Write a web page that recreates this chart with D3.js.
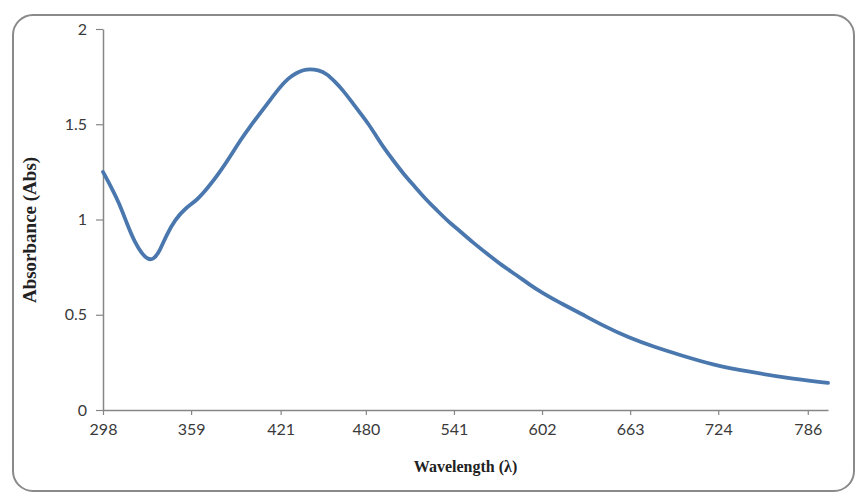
<!DOCTYPE html>
<html>
<head>
<meta charset="utf-8">
<script src="https://cdn.jsdelivr.net/npm/d3@7"></script>
<style>
  body { margin: 0; background: #fff; }
  .tick text { font-family: Lato, "Noto Sans", sans-serif; font-size: 16px; fill: #3a3a3a; }
  .title { font-family: "Liberation Serif", "DejaVu Serif", serif; font-weight: bold; fill: #222; }
</style>
</head>
<body>
<div id="chart"></div>
<script>
// wavelength (nm) and absorbance
const wavelength = [298, 303, 309, 315, 320, 325, 329, 333, 337, 342, 348, 355, 363, 371, 379, 386, 393,
    400, 407, 414, 420, 426, 432, 437, 441, 447, 453, 459, 464, 470, 476, 482, 487, 493, 499, 506, 513,
    521, 529, 537, 545, 554, 564, 574, 584, 593, 602, 615, 628, 645, 662, 680, 697, 721, 746, 770, 800];
const absorbance = [1.25, 1.18, 1.09, 0.97, 0.88, 0.82, 0.79, 0.79, 0.83, 0.92, 1.00, 1.06, 1.10, 1.17, 1.25, 1.33, 1.415,
    1.49, 1.56, 1.63, 1.69, 1.74, 1.77, 1.785, 1.79, 1.785, 1.765, 1.72, 1.68, 1.62, 1.56, 1.50, 1.44, 1.37, 1.31, 1.24, 1.18,
    1.11, 1.05, 0.99, 0.94, 0.88, 0.82, 0.76, 0.71, 0.66, 0.615, 0.56, 0.51, 0.44, 0.38, 0.33, 0.29, 0.235, 0.20, 0.17, 0.142];
const xTicks = [298, 359, 421, 480, 541, 602, 663, 724, 786];
const yTicks = [0, 0.5, 1, 1.5, 2];

const width = 856;
const height = 496;
let dimensions = {
    width: width,
    height: height,
    margin: {top: 29, right: 28, bottom: 86, left: 103}
};
dimensions.boundedWidth = dimensions.width - dimensions.margin.left - dimensions.margin.right;
dimensions.boundedHeight = dimensions.height - dimensions.margin.top - dimensions.margin.bottom;

const data = wavelength.map((w, i) => ({w: w, a: absorbance[i]}));

const svg = d3.select("#chart")
    .append("svg")
    .attr("width", width)
    .attr("height", height);

// rounded chart border
svg.append("rect")
    .attr("x", 13).attr("y", 15)
    .attr("width", 841).attr("height", 476)
    .attr("rx", 20).attr("ry", 20)
    .attr("fill", "#fff")
    .attr("stroke", "#8a8a8a")
    .attr("stroke-width", 2);

const g = svg.append("g")
    .attr("transform", "translate(" + dimensions.margin.left + "," + dimensions.margin.top + ")");

const x = d3.scaleLinear()
    .domain([298, 800])
    .range([0, dimensions.boundedWidth]);

const y = d3.scaleLinear()
    .domain([0, 2])
    .range([dimensions.boundedHeight, 0]);

// X axis
const xAxis = g.append("g")
    .attr("transform", "translate(0," + dimensions.boundedHeight + ")")
    .call(d3.axisBottom(x).tickValues(xTicks).tickFormat(d3.format("d")).tickSize(5).tickPadding(9).tickSizeOuter(0));

// Y axis
const yAxis = g.append("g")
    .call(d3.axisLeft(y).tickValues(yTicks).tickFormat(d => d).tickSize(7).tickPadding(9).tickSizeOuter(0));

[xAxis, yAxis].forEach(a => {
    a.select(".domain").attr("stroke", "#868686").attr("stroke-width", 1.5);
    a.selectAll(".tick line").attr("stroke", "#868686").attr("stroke-width", 1.2);
});

// the absorbance curve
const line = d3.line()
    .x(d => x(d.w))
    .y(d => y(d.a))
    .curve(d3.curveBasis);

g.append("path")
    .datum(data)
    .attr("fill", "none")
    .attr("stroke", "#4A78AE")
    .attr("stroke-width", 3.8)
    .attr("stroke-linecap", "round")
    .attr("stroke-linejoin", "round")
    .attr("d", line);

// axis titles
svg.append("text")
    .attr("class", "title")
    .attr("x", dimensions.margin.left + dimensions.boundedWidth / 2)
    .attr("y", 472)
    .attr("text-anchor", "middle")
    .attr("font-size", 16)
    .text("Wavelength (λ)");

svg.append("text")
    .attr("class", "title")
    .attr("transform", "translate(36,230) rotate(-90)")
    .attr("text-anchor", "middle")
    .attr("font-size", 19)
    .text("Absorbance (Abs)");
</script>
</body>
</html>
